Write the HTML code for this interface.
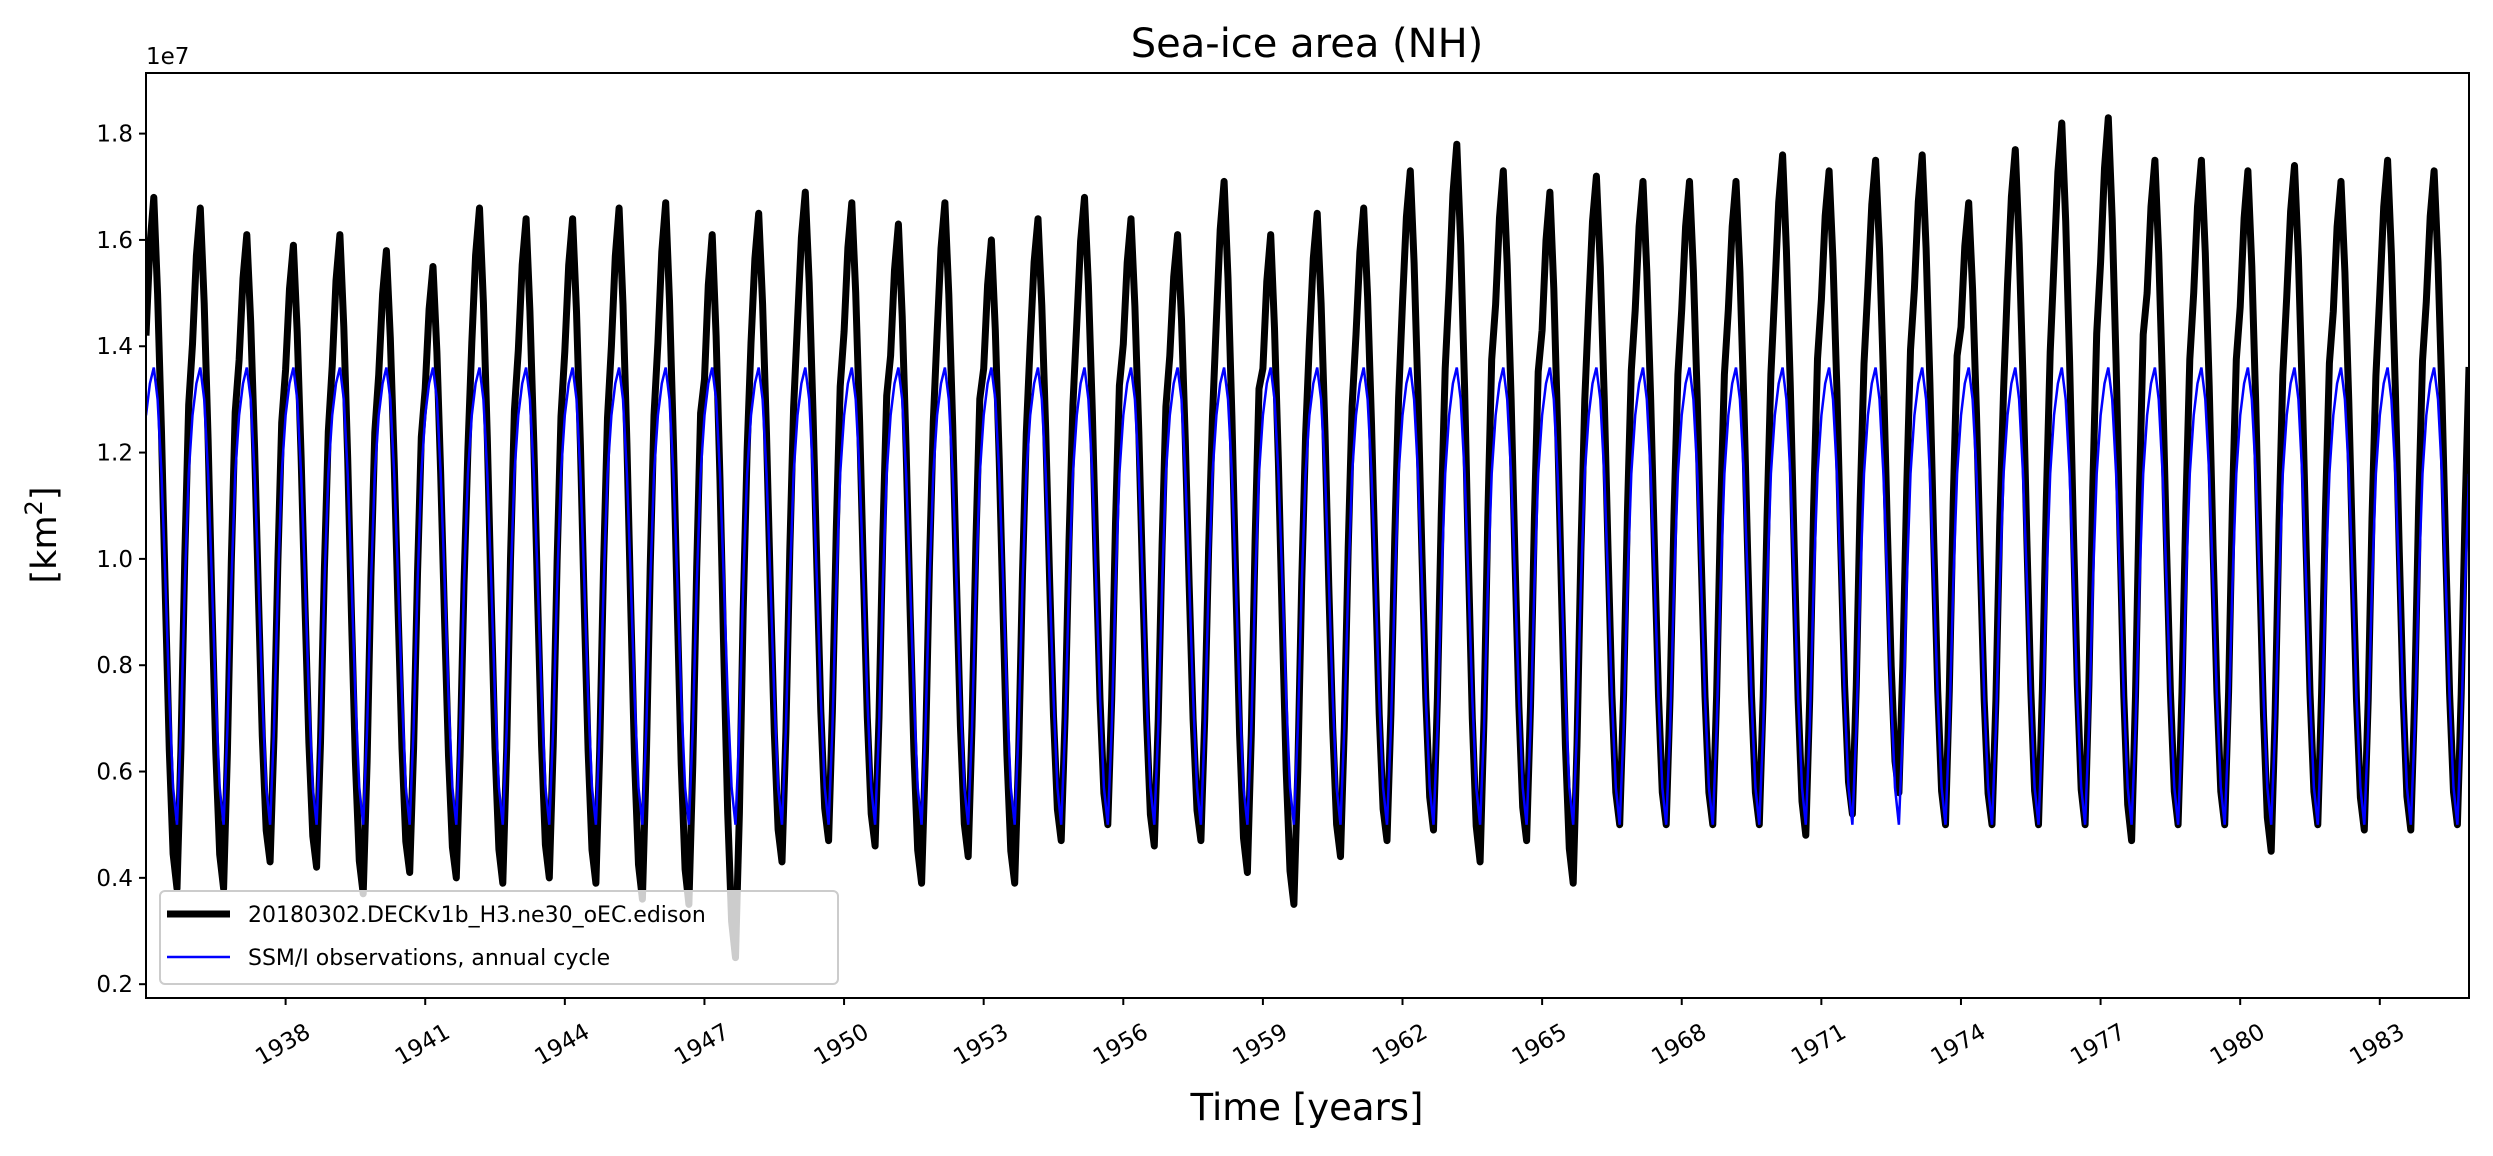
<!DOCTYPE html>
<html><head><meta charset="utf-8"><style>
html,body{margin:0;padding:0;background:#fff;}
svg text{font-family:"DejaVu Sans","Liberation Sans",sans-serif;fill:#000;}
</style></head><body>
<svg id="chart" width="2493" height="1151" xmlns="http://www.w3.org/2000/svg">
<rect width="2493" height="1151" fill="#fff"/>
<text x="1307" y="57" font-size="40" text-anchor="middle">Sea-ice area (NH)</text>
<text x="146" y="64" font-size="23">1e7</text>
<text transform="translate(56,535) rotate(-90)" font-size="35" text-anchor="middle">[km<tspan font-size="24" dy="-14">2</tspan><tspan dy="14">]</tspan></text>
<text x="1307" y="1120" font-size="37" text-anchor="middle">Time [years]</text>
<g id="plot"></g>
<g id="axes"></g>
<g>
<rect x="160" y="891" width="678" height="93" rx="5" fill="#fff" fill-opacity="0.8" stroke="#ccc" stroke-width="2"/>
<line x1="167" y1="914" x2="230" y2="914" stroke="#000" stroke-width="7"/>
<text x="248" y="922" font-size="22">20180302.DECKv1b_H3.ne30_oEC.edison</text>
<line x1="167" y1="957" x2="230" y2="957" stroke="#0000ff" stroke-width="2.5"/>
<text x="248" y="965" font-size="22">SSM/I observations, annual cycle</text>
</g>
</svg>
<script>
const years = [];
for (let y = 1935; y <= 1984; y++) years.push(y);
const modelAnnualMax = [1.68,1.66,1.61,1.59,1.61,1.58,1.55,1.66,1.64,1.64,1.66,1.67,1.61,1.65,1.69,1.67,1.63,1.67,1.60,1.64,1.68,1.64,1.61,1.71,1.61,1.65,1.66,1.73,1.78,1.73,1.69,1.72,1.71,1.71,1.71,1.76,1.73,1.75,1.76,1.67,1.77,1.82,1.83,1.75,1.75,1.73,1.74,1.71,1.75,1.73];
const modelAnnualMin = [0.38,0.38,0.43,0.42,0.37,0.41,0.40,0.39,0.40,0.39,0.36,0.35,0.25,0.43,0.47,0.46,0.39,0.44,0.39,0.47,0.50,0.46,0.47,0.41,0.35,0.44,0.47,0.49,0.43,0.47,0.39,0.50,0.50,0.50,0.50,0.48,0.52,0.56,0.50,0.50,0.50,0.50,0.47,0.50,0.50,0.45,0.50,0.49,0.49,0.50];
const modelCycleShape = [0.80,0.93,1.0,0.86,0.66,0.42,0.20,0.05,0.0,0.20,0.48,0.70];
const obsCycle = [1.27,1.33,1.36,1.30,1.16,0.96,0.74,0.57,0.50,0.68,0.95,1.16];
const yTicks = [0.2,0.4,0.6,0.8,1.0,1.2,1.4,1.6,1.8];
const yTickLabels = ["0.2","0.4","0.6","0.8","1.0","1.2","1.4","1.6","1.8"];
const xTicks = [1938,1941,1944,1947,1950,1953,1956,1959,1962,1965,1968,1971,1974,1977,1980,1983];

const L=146,R=2469,T=73,B=998;
const x0=1935, x1=1984+11/12, yMin=0.174, yMax=1.914;
const xs = t => L + (t - x0) / (x1 - x0) * (R - L);
const ys = v => B - (v - yMin) / (yMax - yMin) * (B - T);
const NS="http://www.w3.org/2000/svg";
const plot=document.getElementById('plot'), axes=document.getElementById('axes');

let modelPts=[], obsPts=[];
years.forEach((y,i)=>{
  for(let m=0;m<12;m++){
    const t=y+m/12;
    const v=modelAnnualMin[i]+modelCycleShape[m]*(modelAnnualMax[i]-modelAnnualMin[i]);
    modelPts.push(xs(t).toFixed(1)+","+ys(v).toFixed(1));
    obsPts.push(xs(t).toFixed(1)+","+ys(obsCycle[m]).toFixed(1));
  }
});
const clip=document.createElementNS(NS,'clipPath'); clip.id='clp';
const cr=document.createElementNS(NS,'rect'); cr.setAttribute('x',L);cr.setAttribute('y',T);cr.setAttribute('width',R-L);cr.setAttribute('height',B-T);
clip.appendChild(cr); plot.appendChild(clip);
const pm=document.createElementNS(NS,'polyline');


pm.setAttribute('points',modelPts.join(' '));pm.setAttribute('fill','none');pm.setAttribute('stroke','#000');pm.setAttribute('stroke-width','7');pm.setAttribute('stroke-linejoin','round');pm.setAttribute('clip-path','url(#clp)');
plot.appendChild(pm);
const po=document.createElementNS(NS,'polyline');


po.setAttribute('points',obsPts.join(' '));po.setAttribute('fill','none');po.setAttribute('stroke','#0000ff');po.setAttribute('stroke-width','2.5');po.setAttribute('clip-path','url(#clp)');
plot.appendChild(po);

const frame=document.createElementNS(NS,'rect');


frame.setAttribute('x',L);frame.setAttribute('y',T);frame.setAttribute('width',R-L);frame.setAttribute('height',B-T);frame.setAttribute('fill','none');frame.setAttribute('stroke','#000');frame.setAttribute('stroke-width','2');
axes.appendChild(frame);

yTicks.forEach((v,i)=>{
  const y=ys(v);
  const ln=document.createElementNS(NS,'line');
  
  
  ln.setAttribute('x1',L-7);ln.setAttribute('x2',L);ln.setAttribute('y1',y);ln.setAttribute('y2',y);ln.setAttribute('stroke','#000');ln.setAttribute('stroke-width','2');
  axes.appendChild(ln);
  const tx=document.createElementNS(NS,'text');
  
  
  tx.setAttribute('x',L-13);tx.setAttribute('y',y+8);tx.setAttribute('font-size','23');tx.setAttribute('text-anchor','end');
  tx.textContent=yTickLabels[i];
  axes.appendChild(tx);
});
xTicks.forEach(yr=>{
  const x=xs(yr);
  const ln=document.createElementNS(NS,'line');
  
  
  ln.setAttribute('x1',x);ln.setAttribute('x2',x);ln.setAttribute('y1',B);ln.setAttribute('y2',B+7);ln.setAttribute('stroke','#000');ln.setAttribute('stroke-width','2');
  axes.appendChild(ln);
  const tx=document.createElementNS(NS,'text');
  
  
  tx.setAttribute('transform','translate('+(x-3)+',1044) rotate(-30)');tx.setAttribute('font-size','23');tx.setAttribute('text-anchor','middle');tx.setAttribute('dy','8');
  tx.textContent=String(yr);
  axes.appendChild(tx);
});
</script>
</body></html>
